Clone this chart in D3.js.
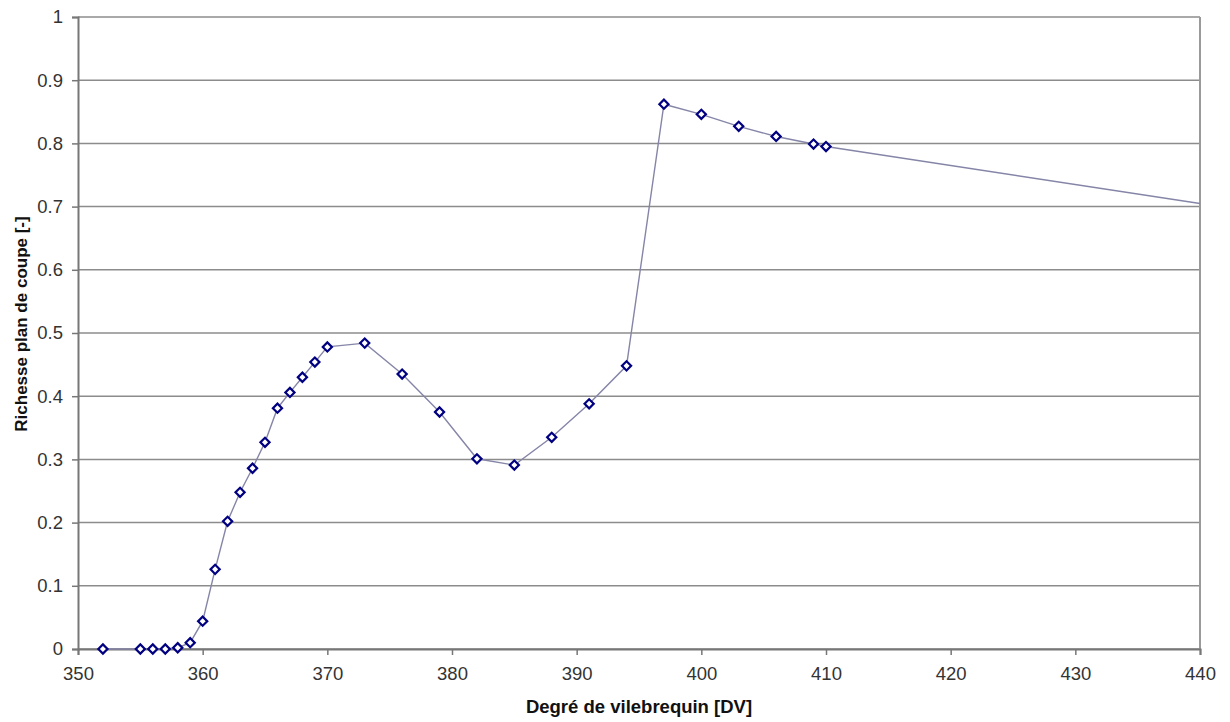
<!DOCTYPE html>
<html><head><meta charset="utf-8">
<script src="https://cdn.jsdelivr.net/npm/d3@7"></script>
<style>body{margin:0;background:#fff}text{font-family:"Liberation Sans",Arial,sans-serif}</style>
</head><body><svg id="c" width="1230" height="722"></svg>
<script>
const xValues=[352,355,356,357,358,359,360,361,362,363,364,365,366,367,368,369,370,373,376,379,382,385,388,391,394,397,400,403,406,409,410,440];
const yValues=[0,0,0,0,0.002,0.01,0.044,0.126,0.202,0.248,0.286,0.327,0.381,0.406,0.43,0.454,0.478,0.484,0.435,0.375,0.301,0.291,0.335,0.388,0.448,0.862,0.846,0.827,0.811,0.799,0.795,0.705];
const markerShown=xValues.map(x=>x<=410);
const xTicks=[350,360,370,380,390,400,410,420,430,440];
const yTicks=[0,0.1,0.2,0.3,0.4,0.5,0.6,0.7,0.8,0.9,1];
const xTitle="Degré de vilebrequin [DV]";
const yTitle="Richesse plan de coupe [-]";

const svg=d3.select("#c");
const L=78,R=1200,T=17,B=649;
const x=d3.scaleLinear().domain([350,440]).range([L,R]);
const y=d3.scaleLinear().domain([0,1]).range([B,T]);
const data=xValues.map((d,i)=>({x:d,y:yValues[i],m:markerShown[i]}));

svg.append("g").selectAll("line").data(yTicks).join("line")
 .attr("x1",L).attr("x2",R).attr("y1",d=>y(d)).attr("y2",d=>y(d))
 .attr("stroke","#8c8c8c").attr("stroke-width",1.5);
svg.append("line").attr("x1",R).attr("x2",R).attr("y1",T).attr("y2",B).attr("stroke","#9a9a9a").attr("stroke-width",2);

const ya=d3.axisLeft(y).tickValues(yTicks).tickSize(6).tickPadding(9).tickFormat(d=>d3.format("")(d));
const gy=svg.append("g").attr("transform",`translate(${L},0)`).call(ya);
const xa=d3.axisBottom(x).tickValues(xTicks).tickSize(6).tickPadding(12).tickFormat(d3.format("d"));
const gx=svg.append("g").attr("transform",`translate(0,${B})`).call(xa);
[gx,gy].forEach(g=>{
 g.select(".domain").attr("stroke","#777").attr("stroke-width",2);
 g.selectAll(".tick line").attr("stroke","#777").attr("stroke-width",1.5);
 g.selectAll(".tick text").attr("fill","#333").style("font-size","18.5px").style("font-family","'Liberation Sans',Arial,sans-serif");
});

svg.append("path").datum(data)
 .attr("d",d3.line().x(d=>x(d.x)).y(d=>y(d.y)))
 .attr("fill","none").attr("stroke","#8585a8").attr("stroke-width",1.4);

const sym=d3.symbol().type(d3.symbolSquare).size(42);
svg.append("g").selectAll("path").data(data.filter(d=>d.m)).join("path")
 .attr("transform",d=>`translate(${x(d.x)},${y(d.y)}) rotate(45)`)
 .attr("d",sym).attr("fill","#fff").attr("stroke","#000080").attr("stroke-width",2.2);

svg.append("text").attr("x",639).attr("y",713).attr("text-anchor","middle")
 .style("font-size","18.5px").style("font-weight","bold").attr("fill","#111").text(xTitle);
svg.append("text").attr("transform",`translate(27,324) rotate(-90)`).attr("text-anchor","middle")
 .style("font-size","17px").style("font-weight","bold").attr("fill","#111").text(yTitle);
</script></body></html>
